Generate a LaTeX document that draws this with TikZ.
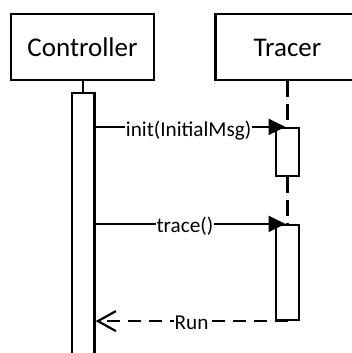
\documentclass[tikz,border=0pt]{standalone}
\usepackage{fontspec}
\setmainfont{Carlito}
\usetikzlibrary{arrows.meta}
\begin{document}
\begin{tikzpicture}[x=1pt,y=-1pt,
  lw/.style={line width=2.2pt},
  objbox/.style={draw, lw, rectangle, inner sep=0pt, minimum width=143pt, minimum height=66pt,
    font=\fontsize{27}{30}\selectfont, text height=20pt, text depth=0.6pt},
  actbox/.style={draw, lw, fill=white, rectangle, inner sep=0pt, minimum width=22.5pt},
  msgtext/.style={font=\fontsize{21.2}{24}\selectfont, fill=white, inner xsep=1pt, inner ysep=0pt, anchor=base},
  lifeline/.style={lw, dash pattern=on 16pt off 7pt},
  call/.style={lw, -{Triangle[length=17pt,width=16pt]}},
  reply/.style={lw, dash pattern=on 13pt off 8pt, -{Straight Barb[length=18pt,width=20pt]}},
]
\useasboundingbox (0,0) rectangle (352,353);
% objects
\node[objbox] (ctrl) at (82.5,47) {Controller};
\node[objbox, minimum width=144pt] (trc) at (287.5,47) {Tracer};
% activation bar placeholders (for lifeline anchors)
\path (83.3,229) node[actbox, draw=none, fill=none, minimum height=272pt] (ctrlact) {};
\path (287.5,152) node[actbox, draw=none, fill=none, minimum height=48pt] (act1) {};
\path (287.5,272.5) node[actbox, draw=none, fill=none, minimum height=95pt] (act2) {};
% lifelines
\draw[lw] (ctrlact.north |- ctrl.south) -- (ctrlact.north);
\draw[lifeline] (trc.south) -- (act1.north);
\draw[lifeline] (act1.south) -- (act2.north);
% activation bars drawn
\node[actbox, minimum height=272pt] at (ctrlact) {};
\node[actbox, minimum height=48pt] at (act1) {};
\node[actbox, minimum height=95pt] at (act2) {};
% messages
\draw[call] (ctrlact.east |- act1.north) -- ([xshift=-2pt]act1.north)
  node[msgtext, pos=0.49, yshift=-9.5pt] (m1) {init(InitialMsg)};
\draw[call] (ctrlact.east |- act2.north) -- ([xshift=-2pt]act2.north)
  node[msgtext, pos=0.47, yshift=-9pt] (m2) {trace()};
\draw[reply] (act2.south) -- (ctrlact.east |- act2.south)
  node[msgtext, pos=0.5, yshift=-8.5pt] (m3) {Run};
\end{tikzpicture}
\end{document}
